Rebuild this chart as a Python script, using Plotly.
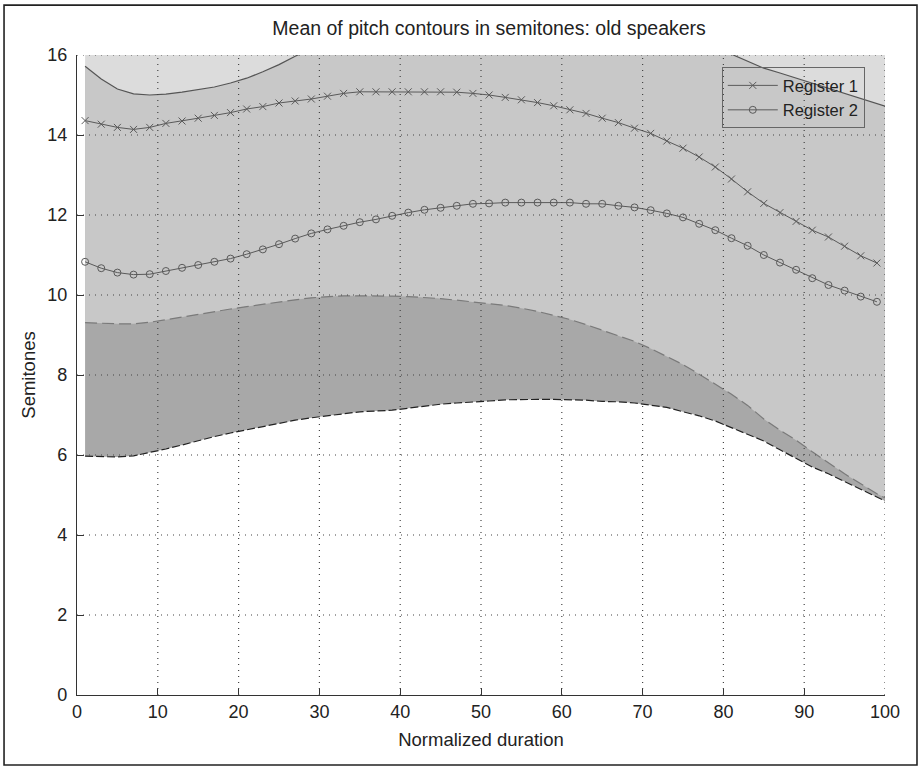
import plotly.graph_objects as go

# ---------------- data ----------------
x_mean = list(range(1, 100, 2))
x_band = list(range(1, 100, 2)) + [100]

reg1_mean = [14.36, 14.27, 14.19, 14.14, 14.19, 14.29, 14.35, 14.42, 14.49, 14.56,
             14.65, 14.71, 14.80, 14.85, 14.90, 14.97, 15.04, 15.08, 15.08, 15.08,
             15.08, 15.08, 15.08, 15.07, 15.04, 15.00, 14.94, 14.88, 14.81, 14.73,
             14.63, 14.54, 14.42, 14.31, 14.17, 14.04, 13.85, 13.67, 13.45, 13.20,
             12.90, 12.58, 12.29, 12.06, 11.84, 11.62, 11.45, 11.22, 10.98, 10.80]

reg2_mean = [10.83, 10.67, 10.56, 10.51, 10.52, 10.60, 10.68, 10.75, 10.83, 10.91,
             11.02, 11.14, 11.27, 11.41, 11.54, 11.64, 11.73, 11.82, 11.89, 11.98,
             12.06, 12.13, 12.18, 12.23, 12.28, 12.29, 12.31, 12.31, 12.31, 12.31,
             12.31, 12.28, 12.28, 12.23, 12.19, 12.12, 12.04, 11.94, 11.78, 11.62,
             11.42, 11.23, 11.00, 10.81, 10.63, 10.42, 10.25, 10.11, 9.96, 9.83]

reg1_lower = [9.31, 9.29, 9.28, 9.28, 9.32, 9.38, 9.45, 9.52, 9.59, 9.65,
              9.71, 9.77, 9.83, 9.88, 9.93, 9.96, 9.98, 9.98, 9.98, 9.97,
              9.96, 9.94, 9.91, 9.87, 9.83, 9.79, 9.74, 9.67, 9.59, 9.49,
              9.39, 9.26, 9.12, 8.98, 8.84, 8.66, 8.47, 8.26, 8.02, 7.78,
              7.52, 7.24, 6.90, 6.62, 6.37, 6.08, 5.80, 5.53, 5.28, 5.03,
              4.93]

reg1_upper = [19.41, 19.25, 19.10, 19.00, 19.06, 19.20, 19.25, 19.32, 19.39, 19.47,
              19.59, 19.65, 19.77, 19.82, 19.87, 19.98, 20.10, 20.18, 20.18, 20.19,
              20.20, 20.22, 20.25, 20.27, 20.25, 20.21, 20.14, 20.09, 20.03, 19.97,
              19.87, 19.82, 19.72, 19.64, 19.50, 19.42, 19.23, 19.08, 18.88, 18.66,
              18.44, 17.98, 17.68, 17.50, 17.31, 17.16, 17.16, 16.91, 16.64, 16.57,
              16.50]

reg2_lower = [5.97, 5.96, 5.95, 5.98, 6.06, 6.15, 6.25, 6.36, 6.46, 6.55,
              6.63, 6.72, 6.80, 6.87, 6.93, 6.98, 7.03, 7.08, 7.10, 7.12,
              7.17, 7.22, 7.27, 7.30, 7.32, 7.35, 7.38, 7.39, 7.39, 7.39,
              7.38, 7.37, 7.34, 7.33, 7.30, 7.25, 7.19, 7.08, 6.98, 6.85,
              6.68, 6.52, 6.35, 6.13, 5.92, 5.70, 5.53, 5.33, 5.14, 4.95,
              4.85]

reg2_upper = [15.72, 15.40, 15.15, 15.03, 15.00, 15.02, 15.07, 15.13, 15.20, 15.30,
              15.42, 15.58, 15.76, 15.97, 16.15, 16.30, 16.43, 16.56, 16.68, 16.84,
              16.95, 17.04, 17.09, 17.16, 17.24, 17.23, 17.24, 17.23, 17.23, 17.23,
              17.24, 17.19, 17.22, 17.13, 17.08, 16.99, 16.89, 16.80, 16.58, 16.39,
              16.02, 15.85, 15.67, 15.55, 15.42, 15.29, 15.16, 15.03, 14.90, 14.78,
              14.72]

x_ticks = list(range(0, 101, 10))
y_ticks = list(range(0, 17, 2))

series_names = ["Register 1", "Register 2"]
title_text = "Mean of pitch contours in semitones: old speakers"
x_title = "Normalized duration"
y_title = "Semitones"

# ---------------- styling ----------------
FONT = "Liberation Sans, Arial, Helvetica, sans-serif"
TXT = "#222222"
DARK_FILL = "#a8a8a8"
LIGHT_FILL = "rgba(210,210,210,0.77)"

fig = go.Figure()

# Register 2 band (dark, opaque)
fig.add_trace(go.Scatter(x=x_band, y=reg2_lower, mode="lines", line=dict(width=0),
                         showlegend=False, hoverinfo="skip"))
fig.add_trace(go.Scatter(x=x_band, y=reg2_upper, mode="lines", line=dict(width=0),
                         fill="tonexty", fillcolor=DARK_FILL,
                         showlegend=False, hoverinfo="skip"))
# Register 1 band (light, translucent on top)
fig.add_trace(go.Scatter(x=x_band, y=reg1_lower, mode="lines", line=dict(width=0),
                         showlegend=False, hoverinfo="skip"))
fig.add_trace(go.Scatter(x=x_band, y=reg1_upper, mode="lines", line=dict(width=0),
                         fill="tonexty", fillcolor=LIGHT_FILL,
                         showlegend=False, hoverinfo="skip"))

# band edges
fig.add_trace(go.Scatter(x=x_band, y=reg2_upper, mode="lines",
                         line=dict(color="#555555", width=1.2),
                         showlegend=False, hoverinfo="skip"))
fig.add_trace(go.Scatter(x=x_band, y=reg1_lower, mode="lines",
                         line=dict(color="#7a7a7a", width=1.2, dash="12px,5px"),
                         showlegend=False, hoverinfo="skip"))
fig.add_trace(go.Scatter(x=x_band, y=reg2_lower, mode="lines",
                         line=dict(color="#222222", width=1.2, dash="8px,3px"),
                         showlegend=False, hoverinfo="skip"))

# mean contours
fig.add_trace(go.Scatter(x=x_mean, y=reg1_mean, mode="lines+markers", name=series_names[0],
                         line=dict(color="#5a5a5a", width=1),
                         marker=dict(symbol="x-thin", size=7, color="#5a5a5a",
                                     line=dict(color="#5a5a5a", width=1))))
fig.add_trace(go.Scatter(x=x_mean, y=reg2_mean, mode="lines+markers", name=series_names[1],
                         line=dict(color="#5a5a5a", width=1),
                         marker=dict(symbol="circle-open", size=7, color="#5a5a5a",
                                     line=dict(color="#5a5a5a", width=1))))

# dotted grid drawn above the fills (MATLAB style)
shapes = []
for t in x_ticks[1:]:
    shapes.append(dict(type="line", xref="x", yref="y", x0=t, x1=t, y0=y_ticks[0], y1=y_ticks[-1],
                       line=dict(color="#444444", width=1.2, dash="1px,5px"), layer="above"))
for t in y_ticks[1:]:
    shapes.append(dict(type="line", xref="x", yref="y", x0=x_ticks[0], x1=x_ticks[-1], y0=t, y1=t,
                       line=dict(color="#444444", width=1.2, dash="1px,5px"), layer="above"))
# outer figure frame
shapes.append(dict(type="rect", xref="paper", yref="paper",
                   x0=-0.0903, x1=1.0396, y0=-0.1094, y1=1.078,
                   line=dict(color="#222222", width=1.6), fillcolor="rgba(0,0,0,0)", layer="above"))

fig.update_layout(
    width=921, height=767,
    margin=dict(l=77, r=36, t=55, b=72),
    paper_bgcolor="white", plot_bgcolor="white",
    font=dict(family=FONT, color=TXT, size=18),
    title=dict(text=title_text, x=0.51, xref="paper", xanchor="center",
               y=1 - 28 / 767, yref="container", yanchor="middle",
               font=dict(family=FONT, size=19.5, color=TXT)),
    showlegend=True,
    legend=dict(x=0.798, y=0.981, xanchor="left", yanchor="top", traceorder="normal",
                bgcolor="rgba(0,0,0,0)", bordercolor="#666666", borderwidth=1,
                font=dict(family=FONT, size=16.5, color=TXT), itemwidth=50,
                tracegroupgap=0),
    shapes=shapes,
)

fig.update_xaxes(range=[0, 100], tickvals=x_ticks, showgrid=False, zeroline=False,
                 showline=True, linecolor="#333333", linewidth=1.2,
                 ticks="inside", ticklen=7, tickcolor="#333333", tickwidth=1.2,
                 tickfont=dict(family=FONT, size=18, color=TXT),
                 title=dict(text=x_title, font=dict(family=FONT, size=18.5, color=TXT), standoff=12),
                 mirror=False, fixedrange=True)
fig.update_yaxes(range=[0, 16], tickvals=y_ticks, showgrid=False, zeroline=False,
                 showline=True, linecolor="#333333", linewidth=1.2,
                 ticks="inside", ticklen=7, tickcolor="#333333", tickwidth=1.2,
                 tickfont=dict(family=FONT, size=18, color=TXT), ticklabelstandoff=5,
                 title=dict(text=y_title, font=dict(family=FONT, size=18.5, color=TXT), standoff=6),
                 mirror=False, fixedrange=True)

fig.write_html("out.html")
